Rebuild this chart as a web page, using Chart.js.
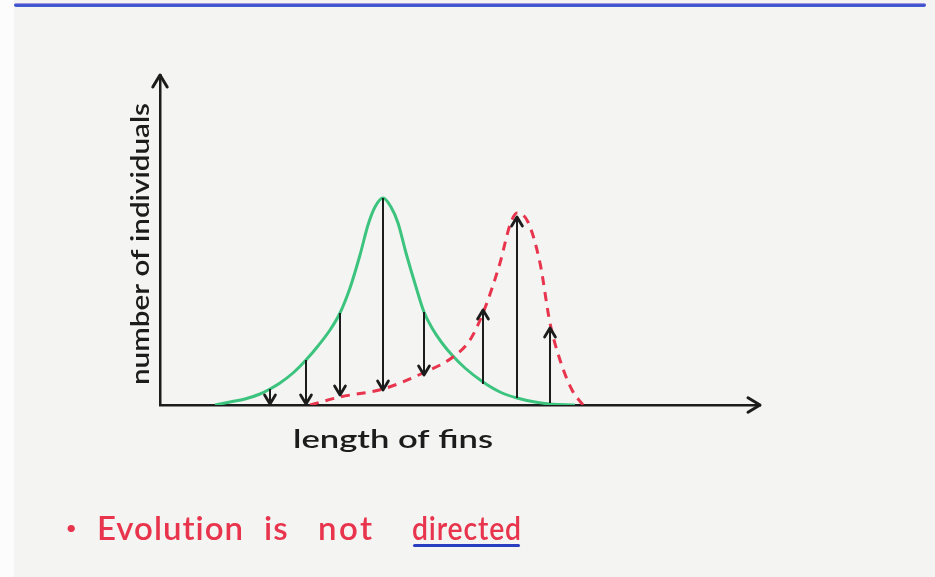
<!DOCTYPE html>
<html>
<head>
<meta charset="utf-8">
<script src="https://cdn.jsdelivr.net/npm/chart.js@4.4.1/dist/chart.umd.min.js"></script>
<style>
  html, body { margin: 0; padding: 0; }
  body { width: 935px; height: 577px; background: #f4f4f2; position: relative; overflow: hidden; font-family: Lato, 'Open Sans', sans-serif; }
  .edge { position: absolute; left: 0; top: 0; width: 14px; height: 577px; background: #fcfcfc; }
  .rule { position: absolute; left: 14px; top: 3px; width: 912px; height: 4px; background: linear-gradient(#c2b0ee, #3046c6 45%, #4c66d8); border-radius: 2px; }
  #wrap { position: absolute; left: 0; top: 0; width: 935px; height: 577px; }
  .caption { position: absolute; left: 0; top: 507px; width: 935px; height: 50px; color: #e8344c; font-size: 33px; font-weight: 600; white-space: nowrap; }
  .caption span { position: absolute; top: 0; letter-spacing: 1px; }
  .caption .dot { font-size: 18px; top: 9px; }
  .caption .squeeze { display: inline-block; position: static; transform: scaleX(0.86); transform-origin: left center; }
  .underline { position: absolute; left: 413px; top: 544px; width: 107px; height: 3px; background: #2a3fc0; border-radius: 2px; }
</style>
</head>
<body>
<div class="edge"></div>
<div class="rule"></div>
<div id="wrap"><canvas id="chart"></canvas></div>
<div class="caption">
  <span class="dot" style="left:66px">•</span><span style="left:97px">Evolution</span><span style="left:264px">is</span><span style="left:318px;letter-spacing:2.5px">not</span><span style="left:412px"><span class="squeeze">directed</span></span>
</div>
<div class="underline"></div>
<script>
// Sketch units: x = length of fins (0..600), y = number of individuals (0..330).
const xMax = 600;
const yMax = 330;

// Original population (solid green)
const greenX = [55, 70, 85, 100, 110, 120, 133, 146, 158, 170, 180, 190, 200, 208, 215, 223, 231, 238, 246, 256, 264, 272, 282, 292, 305, 323, 340, 357, 375, 390, 415];
const greenY = [0, 3, 6, 11, 16, 22, 32, 45, 59, 75, 92, 117, 150, 180, 198, 207, 198, 182, 152, 118, 93, 77, 62, 50, 37, 23, 13, 7, 3, 1, 0];

// Later population (red dashed)
const redX = [150, 180, 223, 263, 293, 310, 323, 340, 350, 357, 368, 380, 390, 400, 412, 423];
const redY = [0, 8, 16, 32, 48, 65, 92, 142, 180, 192, 183, 142, 82, 45, 15, 0];

// Change arrows: from old count to new count at a given fin length
const arrowX = [110, 146, 180, 223, 264, 323, 357, 390];
const arrowFrom = [16, 45, 92, 207, 93, 21, 7, 2];
const arrowTo = [1, 1, 10, 15, 30, 95, 188, 77];

const xTitle = 'length of fins';
const yTitle = 'number of individuals';

const ink = '#1c1c1c';
const green = '#3cc47f';
const red = '#e8344c';

const pts = (xs, ys) => xs.map((x, i) => ({ x, y: ys[i] }));

const arrowSets = arrowX.map((x, i) => ({
    data: [{ x, y: arrowFrom[i] }, { x, y: arrowTo[i] }],
    borderColor: ink,
    borderWidth: 2,
    pointRadius: 0,
    arrow: true,
    order: 0,
}));

// open V arrowhead pointing along (dx, dy)
function head(ctx, x, y, dx, dy, size) {
    const len = Math.hypot(dx, dy) || 1;
    const ux = dx / len, uy = dy / len;
    const px = -uy, py = ux;
    ctx.beginPath();
    ctx.moveTo(x - ux * size + px * size * 0.6, y - uy * size + py * size * 0.6);
    ctx.lineTo(x, y);
    ctx.lineTo(x - ux * size - px * size * 0.6, y - uy * size - py * size * 0.6);
    ctx.stroke();
}

const sketchPlugin = {
    id: 'sketch',
    afterDatasetsDraw(chart) {
        const { ctx, chartArea: a } = chart;
        ctx.save();
        ctx.strokeStyle = ink;
        ctx.lineCap = 'round';
        ctx.lineJoin = 'round';
        ctx.lineWidth = 2.8;
        chart.data.datasets.forEach((ds, i) => {
            if (!ds.arrow) return;
            const el = chart.getDatasetMeta(i).data;
            const p0 = el[0], p1 = el[el.length - 1];
            head(ctx, p1.x, p1.y, p1.x - p0.x, p1.y - p0.y, 9);
        });
        ctx.lineWidth = 3;
        head(ctx, a.left, a.top, 0, -1, 12);
        head(ctx, a.right, a.bottom, 1, 0, 12);

        // hand-lettered axis titles
        ctx.fillStyle = ink;
        ctx.font = '600 25px Lato, sans-serif';
        ctx.textAlign = 'center';
        ctx.textBaseline = 'middle';
        ctx.save();
        ctx.translate(a.left - 19, 244);
        ctx.rotate(-Math.PI / 2);
        const wy = ctx.measureText(yTitle).width;
        ctx.scale(282 / wy, 1);
        ctx.fillText(yTitle, 0, 0);
        ctx.restore();
        ctx.save();
        ctx.translate(393, 440);
        const wx = ctx.measureText(xTitle).width;
        ctx.scale(200 / wx, 1);
        ctx.fillText(xTitle, 0, 0);
        ctx.restore();
        ctx.restore();
    },
};

new Chart(document.getElementById('chart'), {
    type: 'line',
    data: {
        datasets: [
            { data: pts(greenX, greenY), borderColor: green, borderWidth: 3, pointRadius: 0, cubicInterpolationMode: 'monotone', order: 2 },
            { data: pts(redX, redY), borderColor: red, borderWidth: 3, borderDash: [9, 7], pointRadius: 0, cubicInterpolationMode: 'monotone', order: 1 },
            ...arrowSets,
        ],
    },
    options: {
        responsive: true,
        maintainAspectRatio: false,
        animation: false,
        layout: { padding: { left: 160, top: 75, right: 175, bottom: 172 } },
        plugins: { legend: { display: false }, tooltip: { enabled: false } },
        scales: {
            x: {
                type: 'linear', min: 0, max: xMax,
                grid: { display: false, drawTicks: false, tickLength: 0 },
                ticks: { display: false },
                border: { display: true, color: ink, width: 2.5 },
            },
            y: {
                type: 'linear', min: 0, max: yMax,
                grid: { display: false, drawTicks: false, tickLength: 0 },
                ticks: { display: false },
                border: { display: true, color: ink, width: 2.5 },
            },
        },
    },
    plugins: [sketchPlugin],
});
</script>
</body>
</html>
